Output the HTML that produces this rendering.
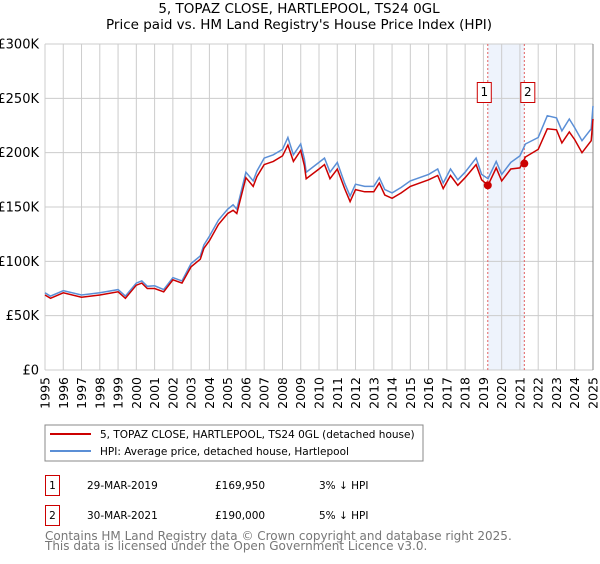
<!DOCTYPE html>
<html><head><meta charset="utf-8"><style>
body{margin:0;background:#fff;width:600px;height:560px;overflow:hidden;font-family:"DejaVu Sans","Liberation Sans",sans-serif}
svg text{font-family:"DejaVu Sans","Liberation Sans",sans-serif}
</style></head><body>
<svg id="c" width="600" height="560">
<text x="299" y="13" text-anchor="middle" font-size="13.5">5, TOPAZ CLOSE, HARTLEPOOL, TS24 0GL</text>
<text x="299" y="29" text-anchor="middle" font-size="13.5">Price paid vs. HM Land Registry's House Price Index (HPI)</text>
<g id="grid"></g><g id="series"></g><g id="axes"></g>
<rect x="45" y="425" width="378" height="36" fill="#fff" stroke="#888"/>
<line x1="50" y1="434" x2="91" y2="434" stroke="#cc0000" stroke-width="2"/>
<text x="100" y="438" font-size="10.5">5, TOPAZ CLOSE, HARTLEPOOL, TS24 0GL (detached house)</text>
<line x1="50" y1="451" x2="91" y2="451" stroke="#5b8fd6" stroke-width="2"/>
<text x="100" y="455" font-size="10.5">HPI: Average price, detached house, Hartlepool</text>
<g>
<rect x="45.5" y="475.5" width="14" height="20" fill="#fff" stroke="#cc0000"/>
<text x="52.5" y="489" text-anchor="middle" font-size="10.5">1</text>
<text x="87" y="489" font-size="10.5">29-MAR-2019</text>
<text x="215" y="489" font-size="10.5">£169,950</text>
<text x="319" y="489" font-size="10.5">3% ↓ HPI</text></g>
<g>
<rect x="45.5" y="505.5" width="14" height="20" fill="#fff" stroke="#cc0000"/>
<text x="52.5" y="519" text-anchor="middle" font-size="10.5">2</text>
<text x="87" y="519" font-size="10.5">30-MAR-2021</text>
<text x="215" y="519" font-size="10.5">£190,000</text>
<text x="319" y="519" font-size="10.5">5% ↓ HPI</text></g>
<text x="45" y="540" font-size="12" fill="#777">Contains HM Land Registry data © Crown copyright and database right 2025.</text>
<text x="45" y="550" font-size="12" fill="#777">This data is licensed under the Open Government Licence v3.0.</text>
</svg>
<script>
const hpiYears=[1995,1995.3,1996,1997,1998,1999,1999.4,2000,2000.3,2000.6,2001,2001.5,2002,2002.5,2003,2003.5,2003.7,2004,2004.5,2005,2005.3,2005.5,2006,2006.4,2006.6,2007,2007.5,2008,2008.3,2008.6,2009,2009.2,2009.3,2010,2010.3,2010.6,2011,2011.4,2011.7,2012,2012.5,2013,2013.3,2013.6,2014,2014.5,2015,2016,2016.5,2016.8,2017.2,2017.6,2018,2018.6,2018.9,2019.25,2019.7,2020,2020.5,2021,2021.3,2022,2022.5,2023,2023.3,2023.7,2024,2024.4,2024.9,2025];
const hpiValues=[71,68,73,69,71,74,68,80,82,77,77.5,74,85,82,98,105,115,123,138,148,152,148,182,174,183,195,198,203,214,198,208,194,182,191,195,182,191,172,160,171,169,169,177,166,163,168,174,180,185,172,185,175,182,195,180,176,192,180,191,197,208,214,234,232,220,231,223,211,222,243];
const priceValues=[69,66,71,67,69,72,66,78,80,75,75,72,83,80,95,102,112,119,134,144,147,144,177,169,178,189,192,197,207,192,202,188,176,185,189,176,185,167,155,166,164,164,172,161,158,163,169,175,179,167,179,170,177,189,175,170,186,174,185,186,196,203,222,221,209,219,212,200,211,231];
const saleYears=[2019.24,2021.24];
const saleValues=[169.95,190];
const yTicks=[0,50,100,150,200,250,300];
const yTickLabels=["£0","£50K","£100K","£150K","£200K","£250K","£300K"];
const xTicks=[1995,1996,1997,1998,1999,2000,2001,2002,2003,2004,2005,2006,2007,2008,2009,2010,2011,2012,2013,2014,2015,2016,2017,2018,2019,2020,2021,2022,2023,2024,2025];
const X0=45,X1=593,Y0=370,Y1=44;
const xs=y=>X0+(y-1995)/30*(X1-X0);
const ys=v=>Y0-v/300*(Y0-Y1);
const NS="http://www.w3.org/2000/svg";
function mk(p,t,a){const e=document.createElementNS(NS,t);for(const k in a)e.setAttribute(k,a[k]);p.appendChild(e);return e;}
const grid=document.getElementById('grid'),ser=document.getElementById('series'),ax=document.getElementById('axes');
const bg=mk(grid,'rect',{x:X0,y:Y1,width:X1-X0,height:Y0-Y1,fill:'#fff'});


const sh=mk(grid,'rect',{x:xs(saleYears[0]),y:Y1,width:xs(saleYears[1])-xs(saleYears[0]),height:Y0-Y1,fill:'#eef3fc'});


xTicks.forEach(t=>{const l=mk(grid,'line',{x1:xs(t),x2:xs(t),y1:Y1,y2:Y0,stroke:'#ccc'});


const x=xs(t)+4.5,y=377;
const tx=mk(ax,'text',{x:x,y:y,'text-anchor':'end','font-size':12.5,transform:`rotate(-90 ${x} ${y})`});tx.textContent=t;

});
yTicks.forEach((t,i)=>{const l=mk(grid,'line',{x1:X0,x2:X1,y1:ys(t),y2:ys(t),stroke:'#ccc'});


const tx=mk(ax,'text',{x:39,y:ys(t)+4.5,'text-anchor':'end','font-size':13});tx.textContent=yTickLabels[i];

});
const rb=mk(grid,'line',{x1:X1,x2:X1,y1:Y1,y2:Y0,stroke:'#888'});


saleYears.forEach((y,i)=>{const l=mk(ser,'line',{x1:xs(y),x2:xs(y),y1:Y1,y2:Y0,stroke:'#e06060','stroke-dasharray':'2,2'});

});
const pt=(Y,V)=>Y.map((y,i)=>xs(y).toFixed(1)+','+ys(V[i]).toFixed(1)).join(' ');
const h=mk(ser,'polyline',{points:pt(hpiYears,hpiValues),fill:'none',stroke:'#5b8fd6','stroke-width':1.5});


const p=mk(ser,'polyline',{points:pt(hpiYears,priceValues),fill:'none',stroke:'#cc0000','stroke-width':1.5});


saleYears.forEach((y,i)=>{const c=mk(ser,'circle',{cx:xs(y),cy:ys(saleValues[i]),r:4,fill:'#cc0000'});


const b=mk(ser,'rect',{x:(i?xs(y)-3.5:xs(y)-10.5),y:82.5,width:14,height:20,fill:'#fff',stroke:'#cc0000'});


const t=mk(ser,'text',{x:(i?xs(y)+3.5:xs(y)-3.5),y:96,'text-anchor':'middle','font-size':12});t.textContent=i+1;

});
</script>
</body></html>
